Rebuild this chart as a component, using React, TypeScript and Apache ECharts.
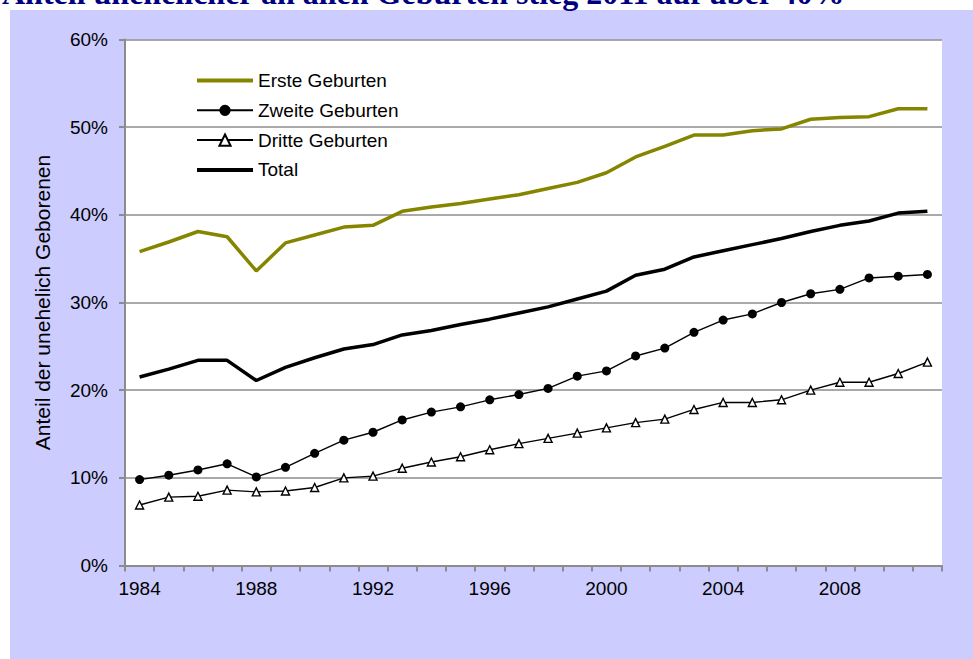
import React, { useEffect, useRef } from "react";
import * as echarts from "echarts";

const years = [
  "1984", "1985", "1986", "1987", "1988", "1989", "1990", "1991", "1992", "1993",
  "1994", "1995", "1996", "1997", "1998", "1999", "2000", "2001", "2002", "2003",
  "2004", "2005", "2006", "2007", "2008", "2009", "2010", "2011",
];

const erste = [
  35.8, 36.9, 38.1, 37.5, 33.6, 36.8, 37.7, 38.6, 38.8, 40.4,
  40.9, 41.3, 41.8, 42.3, 43.0, 43.7, 44.8, 46.6, 47.8, 49.1,
  49.1, 49.6, 49.8, 50.9, 51.1, 51.2, 52.1, 52.1,
];
const zweite = [
  9.8, 10.3, 10.9, 11.6, 10.1, 11.2, 12.8, 14.3, 15.2, 16.6,
  17.5, 18.1, 18.9, 19.5, 20.2, 21.6, 22.2, 23.9, 24.8, 26.6,
  28.0, 28.7, 30.0, 31.0, 31.5, 32.8, 33.0, 33.2,
];
const dritte = [
  6.9, 7.8, 7.9, 8.6, 8.4, 8.5, 8.9, 10.0, 10.2, 11.1,
  11.8, 12.4, 13.2, 13.9, 14.5, 15.1, 15.7, 16.3, 16.7, 17.8,
  18.6, 18.6, 18.9, 20.0, 20.9, 20.9, 21.9, 23.2,
];
const total = [
  21.5, 22.4, 23.4, 23.4, 21.1, 22.6, 23.7, 24.7, 25.2, 26.3,
  26.8, 27.5, 28.1, 28.8, 29.5, 30.4, 31.3, 33.1, 33.8, 35.2,
  35.9, 36.6, 37.3, 38.1, 38.8, 39.3, 40.2, 40.4,
];

const seriesNames = ["Erste Geburten", "Zweite Geburten", "Dritte Geburten", "Total"];
const yAxisName = "Anteil der unehelich Geborenen";
const titleText = "Anteil unehelicher an allen Geburten stieg 2011 auf über 40%";

const FONT = "'Liberation Sans', Arial, sans-serif";
const OLIVE = "#858500";
const GRID_GRAY = "#8c8c8c";
const THICK_LINE_ICON = "path://M0,0H56V4H0Z";

export default function App() {
  const ref = useRef<HTMLDivElement>(null);

  useEffect(() => {
    if (!ref.current) return;
    const chart = echarts.init(ref.current, undefined, { renderer: "svg" });
    chart.setOption({
      animation: false,
      backgroundColor: "#ffffff",
      textStyle: { fontFamily: FONT },
      graphic: [
        {
          type: "rect",
          z: -100,
          shape: { x: 10, y: 10, width: 980, height: 660 },
          style: { fill: "#CCCCFF" },
          silent: true,
        },
        {
          type: "text",
          x: 2,
          y: -7,
          style: {
            text: titleText,
            fill: "#000080",
            font: "bold 32px 'Liberation Serif', 'Times New Roman', serif",
            verticalAlign: "middle",
            align: "left",
          },
          silent: true,
        },
      ],
      grid: {
        left: 125,
        right: 31,
        top: 39.5,
        bottom: 93.5,
        show: true,
        backgroundColor: "#ffffff",
        borderWidth: 0,
      },
      legend: {
        orient: "vertical",
        left: 191,
        top: 66,
        itemWidth: 56,
        itemHeight: 14,
        itemGap: 10.8,
        data: [
          { name: seriesNames[0], icon: THICK_LINE_ICON },
          { name: seriesNames[1] },
          { name: seriesNames[2] },
          { name: seriesNames[3], icon: THICK_LINE_ICON },
        ],
        textStyle: { fontSize: 19, color: "#000", fontFamily: FONT },
      },
      xAxis: {
        type: "category",
        data: years,
        boundaryGap: true,
        axisLine: { lineStyle: { color: GRID_GRAY, width: 2 } },
        axisTick: { show: true, interval: 0, length: 6, lineStyle: { color: GRID_GRAY, width: 2 } },
        axisLabel: { interval: 3, fontSize: 19, color: "#000", margin: 13, fontFamily: FONT },
        splitLine: { show: false },
      },
      yAxis: {
        type: "value",
        min: 0,
        max: 60,
        interval: 10,
        name: yAxisName,
        nameLocation: "middle",
        nameGap: 72,
        nameTextStyle: { fontSize: 21, color: "#000", fontFamily: FONT },
        axisLine: { show: true, lineStyle: { color: GRID_GRAY, width: 2 } },
        axisTick: { show: true, length: 6, lineStyle: { color: GRID_GRAY, width: 2 } },
        axisLabel: { formatter: "{value}%", fontSize: 19, color: "#000", margin: 17, fontFamily: FONT },
        splitLine: { show: true, lineStyle: { color: GRID_GRAY, width: 1.5 } },
      },
      series: [
        {
          name: seriesNames[0],
          type: "line",
          data: erste,
          symbol: "none",
          lineStyle: { color: OLIVE, width: 3.5 },
          itemStyle: { color: OLIVE },
        },
        {
          name: seriesNames[1],
          type: "line",
          data: zweite,
          symbol: "circle",
          symbolSize: 9,
          lineStyle: { color: "#000", width: 1.4 },
          itemStyle: { color: "#000" },
        },
        {
          name: seriesNames[2],
          type: "line",
          data: dritte,
          symbol: "triangle",
          symbolSize: 8,
          lineStyle: { color: "#000", width: 1.4 },
          itemStyle: { color: "#fff", borderColor: "#000", borderWidth: 1.4 },
        },
        {
          name: seriesNames[3],
          type: "line",
          data: total,
          symbol: "none",
          lineStyle: { color: "#000", width: 3.5 },
          itemStyle: { color: "#000" },
        },
      ],
    });
    return () => chart.dispose();
  }, []);

  return (
    <div
      ref={ref}
      style={{ position: "absolute", left: 0, top: 0, width: 973, height: 659 }}
    />
  );
}
